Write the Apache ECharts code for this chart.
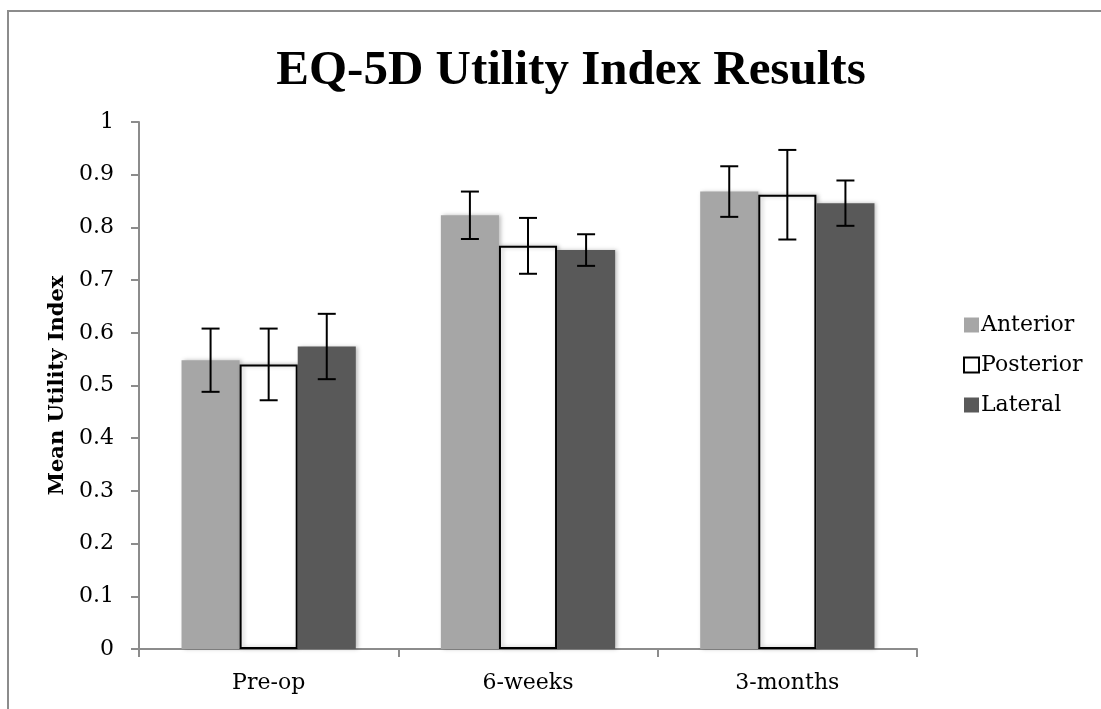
<!DOCTYPE html>
<html>
<head>
<meta charset="utf-8">
<script src="https://cdn.jsdelivr.net/npm/echarts@6/dist/echarts.min.js"></script>
<style>
  html, body { margin: 0; padding: 0; background: #fff; }
  #chart { width: 1101px; height: 709px; }
</style>
</head>
<body>
<div id="chart"></div>
<script>
var categories = ['Pre-op', '6-weeks', '3-months']
var seriesNames = ['Anterior', 'Posterior', 'Lateral']
var anterior = [0.548, 0.823, 0.868]
var posterior = [0.540, 0.765, 0.862]
var lateral = [0.574, 0.757, 0.846]
var anteriorErr = [0.060, 0.045, 0.048]
var posteriorErr = [0.068, 0.053, 0.085]
var lateralErr = [0.062, 0.030, 0.043]
var yTicks = [0, 0.1, 0.2, 0.3, 0.4, 0.5, 0.6, 0.7, 0.8, 0.9, 1]

var FONT = 'DejaVu Serif'
var TITLE_FONT = 'Liberation Serif'
var colors = ['#a6a6a6', '#ffffff', '#595959']
var values = [anterior, posterior, lateral]
var errs = [anteriorErr, posteriorErr, lateralErr]

var chart = echarts.init(document.getElementById('chart'))

// error bar drawn over each bar
function errSeries(idx) {
  var data = values[idx].map(function (v, i) {
    return [i, v - errs[idx][i], v + errs[idx][i]]
  })
  return {
    type: 'custom',
    name: seriesNames[idx] + ' err',
    z: 10,
    silent: true,
    data: data,
    renderItem: function (params, api) {
      var c = api.value(0)
      var lo = api.coord([c, api.value(1)])
      var hi = api.coord([c, api.value(2)])
      var bw = api.size([1, 0])[0]
      var barW = bw * 0.672 / 3
      var x = lo[0] + (idx - 1) * barW
      var half = 9
      var st = { stroke: '#000', lineWidth: 2 }
      return {
        type: 'group',
        children: [
          { type: 'line', shape: { x1: x, y1: hi[1], x2: x, y2: lo[1] }, style: st },
          { type: 'line', shape: { x1: x - half, y1: hi[1], x2: x + half, y2: hi[1] }, style: st },
          { type: 'line', shape: { x1: x - half, y1: lo[1], x2: x + half, y2: lo[1] }, style: st }
        ]
      }
    }
  }
}

var barSeries = seriesNames.map(function (name, i) {
  return {
    name: name,
    type: 'bar',
    data: values[i],
    barGap: 0,
    barCategoryGap: '32.8%',
    itemStyle: {
      color: colors[i],
      borderColor: i === 1 ? '#000' : colors[i],
      borderWidth: i === 1 ? 2 : 0,
      shadowColor: 'rgba(0,0,0,0.25)',
      shadowBlur: 4,
      shadowOffsetX: 2
    }
  }
})

var option = {
  animation: false,
  backgroundColor: '#fff',
  title: {
    text: 'EQ-5D Utility Index Results',
    left: 566,
    top: 42,
    textAlign: 'center',
    textStyle: { fontFamily: TITLE_FONT, fontSize: 49, fontWeight: 'bold', color: '#000' }
  },
  graphic: [
    {
      type: 'rect',
      shape: { x: 8, y: 11, width: 1200, height: 800 },
      style: { fill: 'none', stroke: '#8c8c8c', lineWidth: 2 },
      silent: true
    }
  ],
  legend: {
    data: seriesNames,
    orient: 'vertical',
    left: 958,
    top: 309,
    icon: 'rect',
    itemWidth: 15,
    itemHeight: 15,
    itemGap: 18,
    textStyle: { fontFamily: FONT, fontSize: 22, lineHeight: 22, color: '#000', padding: [0, 0, 0, -3] },
    itemStyle: { shadowBlur: 0, shadowOffsetX: 0 }
  },
  grid: { left: 139, right: 184, top: 122, bottom: 60 },
  xAxis: {
    type: 'category',
    data: categories,
    axisLine: { lineStyle: { color: '#8c8c8c', width: 2 } },
    axisTick: { show: true, length: 8, lineStyle: { color: '#8c8c8c', width: 2 } },
    axisLabel: { fontFamily: FONT, fontSize: 22, color: '#000', margin: 23 }
  },
  yAxis: {
    type: 'value',
    min: 0,
    max: 1,
    interval: 0.1,
    name: 'Mean Utility Index',
    nameLocation: 'middle',
    nameGap: 68,
    nameTextStyle: { fontFamily: FONT, fontSize: 21, fontWeight: 'bold', color: '#000' },
    axisLine: { show: true, lineStyle: { color: '#8c8c8c', width: 2 } },
    axisTick: { show: true, length: 8, lineStyle: { color: '#8c8c8c', width: 2 } },
    splitLine: { show: false },
    axisLabel: {
      fontFamily: FONT, fontSize: 22, color: '#000', margin: 25,
      formatter: function (v) {
        var r = Math.round(v * 10) / 10
        return yTicks.indexOf(r) >= 0 ? String(r) : ''
      }
    }
  },
  series: barSeries.concat([errSeries(0), errSeries(1), errSeries(2)])
}

chart.setOption(option)
</script>
</body>
</html>
